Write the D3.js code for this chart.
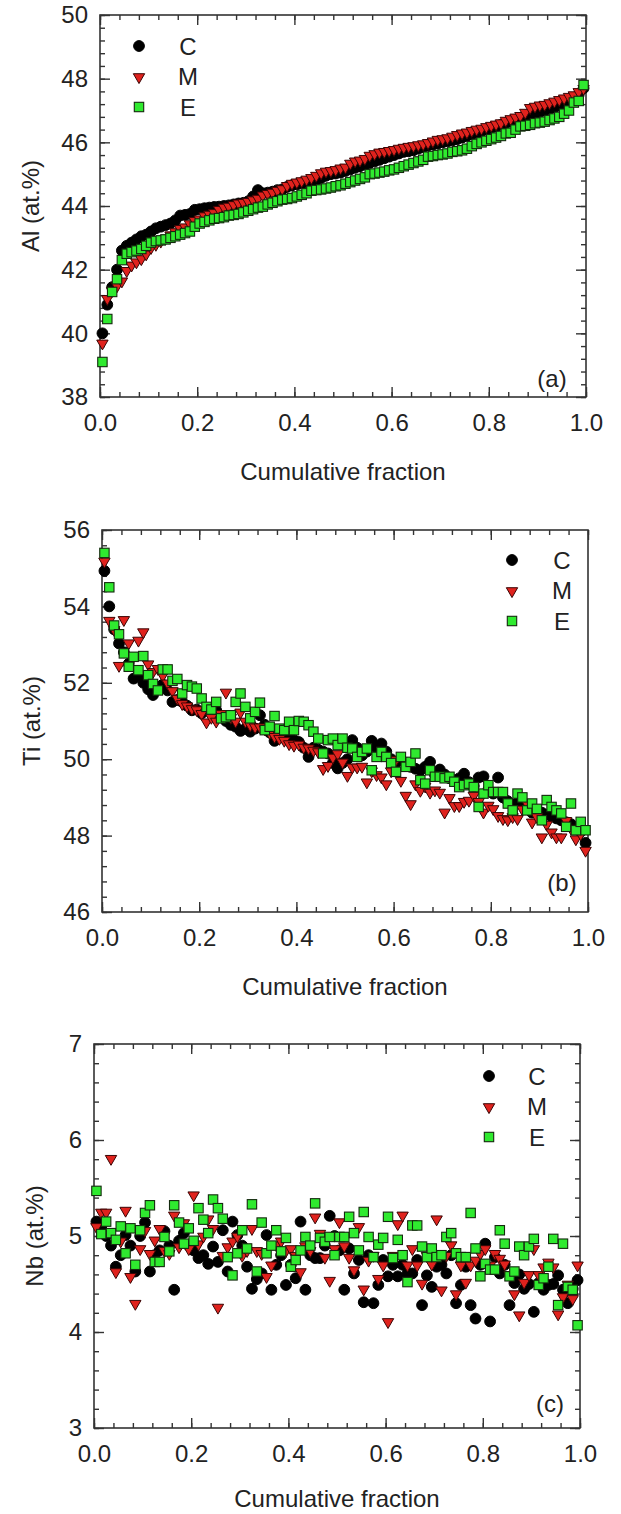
<!DOCTYPE html>
<html lang="en">
<head>
    <meta charset="UTF-8">
    <title>Cumulative fraction</title>
    <style>
        body { margin: 0; background: #fff; }
        text { font-family: "Liberation Sans", Arial, sans-serif; fill: #222; }
    </style>
</head>
<body>
<script src="https://d3js.org/d3.v7.min.js"></script>
<script>
    // series values, one point per analysed position, sorted by cumulative fraction
    const alC = [40.0, 40.9, 41.45, 42.0, 42.6, 42.75, 42.85, 42.95, 43.05, 43.1,
        43.2, 43.3, 43.35, 43.4, 43.45, 43.55, 43.7, 43.72, 43.75, 43.88,
        43.9, 43.93, 43.95, 43.97, 43.98, 44.0, 44.02, 44.05, 44.08, 44.1,
        44.15, 44.3, 44.5, 44.4, 44.42, 44.45, 44.5, 44.52, 44.6, 44.65,
        44.68, 44.72, 44.75, 44.78, 44.82, 44.88, 44.95, 45.0, 45.02, 45.05,
        45.1, 45.15, 45.2, 45.25, 45.3, 45.35, 45.4, 45.45, 45.5, 45.55,
        45.6, 45.65, 45.7, 45.72, 45.75, 45.8, 45.85, 45.9, 45.93, 45.96,
        46.0, 46.03, 46.06, 46.1, 46.15, 46.2, 46.25, 46.3, 46.35, 46.4,
        46.45, 46.5, 46.55, 46.6, 46.65, 46.7, 46.75, 46.8, 46.85, 46.9,
        46.95, 47.0, 47.05, 47.1, 47.15, 47.2, 47.3, 47.4, 47.5, 47.7];
    const alM = [39.7, 41.1, 41.35, 41.5, 41.65, 41.98, 42.15, 42.25, 42.35, 42.5,
        42.7, 42.8, 42.9, 43.0, 43.1, 43.2, 43.3, 43.35, 43.45, 43.55,
        43.6, 43.7, 43.75, 43.8, 43.9, 43.97, 44.0, 44.05, 44.1, 44.12,
        44.15, 44.2, 44.25, 44.35, 44.4, 44.44, 44.5, 44.55, 44.65, 44.72,
        44.76, 44.8, 44.85, 44.9, 44.97, 45.05, 45.1, 45.12, 45.15, 45.2,
        45.23, 45.35, 45.42, 45.45, 45.5, 45.6, 45.65, 45.7, 45.72, 45.75,
        45.78, 45.82, 45.85, 45.88, 45.9, 45.93, 45.96, 46.0, 46.05, 46.1,
        46.12, 46.15, 46.2, 46.25, 46.3, 46.33, 46.38, 46.42, 46.45, 46.5,
        46.54, 46.58, 46.62, 46.7, 46.75, 46.8, 46.85, 46.95, 47.1, 47.14,
        47.18, 47.2, 47.25, 47.3, 47.35, 47.4, 47.45, 47.5, 47.6, 47.7];
    const alE = [39.1, 40.45, 41.3, 41.7, 42.3, 42.5, 42.55, 42.6, 42.65, 42.75,
        42.85, 42.9, 42.92, 42.95, 43.0, 43.05, 43.1, 43.15, 43.2, 43.35,
        43.45, 43.5, 43.55, 43.6, 43.62, 43.65, 43.7, 43.72, 43.75, 43.8,
        43.85, 43.9, 43.95, 43.98, 44.05, 44.1, 44.15, 44.2, 44.22, 44.25,
        44.3, 44.35, 44.4, 44.48, 44.5, 44.52, 44.55, 44.58, 44.62, 44.65,
        44.7, 44.75, 44.8, 44.85, 44.9, 45.0, 45.02, 45.05, 45.08, 45.12,
        45.15, 45.2, 45.25, 45.3, 45.35, 45.4, 45.45, 45.55, 45.57, 45.6,
        45.62, 45.65, 45.7, 45.72, 45.75, 45.8, 45.88, 45.95, 46.0, 46.05,
        46.1, 46.15, 46.2, 46.28, 46.3, 46.4, 46.5, 46.52, 46.55, 46.6,
        46.62, 46.65, 46.7, 46.75, 46.8, 46.9, 47.0, 47.25, 47.3, 47.8];

    const tiC = [54.93, 54.0, 53.4, 53.03, 52.8, 52.5, 52.11, 52.2, 52.0, 51.83,
        51.68, 51.9, 51.95, 51.8, 51.5, 51.55, 51.5, 51.4, 51.28, 51.3,
        51.2, 51.3, 51.2, 51.28, 51.1, 51.0, 50.9, 50.85, 50.74, 50.8,
        50.72, 50.8, 51.15, 50.9, 50.7, 50.48, 50.6, 50.55, 50.59, 50.5,
        50.45, 50.3, 50.06, 50.3, 50.25, 50.2, 50.15, 49.9, 49.76, 49.9,
        50.0, 50.5, 50.3, 50.1, 50.2, 50.48, 50.3, 50.41, 50.2, 50.0,
        49.9, 50.0, 49.9, 49.8, 49.75, 49.71, 49.8, 49.93, 49.6, 49.73,
        49.6, 49.5, 49.45, 49.5, 49.62, 49.4, 49.3, 49.52, 49.55, 49.2,
        49.1, 49.52, 49.0, 48.9, 48.8, 48.85, 48.8, 48.7, 48.6, 48.65,
        48.6, 48.55, 48.5, 48.45, 48.4, 48.35, 48.3, 48.2, 48.1, 47.81];
    const tiM = [55.19, 53.64, 53.4, 52.46, 53.66, 53.05, 52.7, 53.12, 53.34, 52.5,
        52.3, 52.38, 52.2, 52.0, 51.8, 51.6, 51.46, 51.4, 51.33, 51.3,
        51.2, 50.98, 51.1, 51.0, 51.2, 51.76, 51.1, 51.0, 51.24, 51.0,
        50.9, 50.85, 50.85, 50.8, 50.7, 50.6, 50.55, 50.5, 50.41, 50.37,
        50.4, 50.32, 50.3, 50.24, 50.2, 49.76, 49.84, 50.06, 50.15, 49.93,
        49.58, 49.8, 49.8, 49.82, 49.41, 49.7, 49.6, 49.54, 49.36, 49.7,
        50.0, 49.45, 49.06, 48.84, 49.36, 49.19, 49.3, 49.14, 49.2, 49.14,
        48.62, 49.0, 48.79, 48.79, 48.9, 48.93, 49.06, 48.9, 48.62, 48.8,
        48.71, 48.53, 48.45, 48.42, 48.5, 48.45, 48.7, 48.84, 48.36, 48.5,
        47.97, 48.3, 48.1, 47.97, 47.97, 48.4, 48.2, 47.92, 48.05, 47.62];
    const tiE = [55.4, 54.5, 53.5, 53.27, 52.77, 52.42, 52.68, 52.33, 52.7, 52.2,
        51.97, 51.8, 52.35, 52.35, 52.05, 52.1, 51.72, 51.94, 51.9, 51.85,
        51.59, 51.37, 51.3, 51.5, 51.07, 51.1, 51.15, 51.5, 51.72, 51.37,
        51.07, 51.24, 51.48, 50.76, 50.85, 51.13, 50.8, 50.76, 50.98, 50.76,
        51.0, 50.98, 50.89, 50.72, 50.54, 50.15, 50.5, 50.54, 50.37, 50.54,
        50.3, 50.28, 50.06, 50.19, 50.28, 49.71, 50.06, 50.19, 50.06, 49.9,
        49.67, 50.06, 49.8, 49.93, 50.15, 49.45, 49.36, 49.71, 49.54, 49.54,
        49.5, 49.54, 49.41, 49.27, 49.32, 49.36, 49.27, 48.75, 49.1, 49.32,
        49.14, 49.14, 49.14, 48.84, 48.66, 49.1, 49.0, 48.66, 48.84, 48.7,
        48.4, 48.93, 48.75, 48.66, 48.58, 48.23, 48.84, 48.14, 48.36, 48.14];

    const nbC = [5.15, 5.1, 5.0, 4.9, 4.68, 4.8, 5.01, 4.9, 4.63, 5.0,
        5.14, 4.63, 4.8, 4.85, 5.05, 4.9, 4.44, 4.95, 5.03, 4.9,
        4.85, 4.77, 4.8, 4.71, 4.89, 4.73, 5.06, 4.63, 5.15, 5.01,
        4.9, 4.68, 4.45, 4.55, 4.61, 5.01, 4.44, 4.7, 4.8, 4.49,
        4.7, 4.56, 5.15, 4.44, 4.8, 4.77, 4.77, 4.9, 5.21, 5.0,
        4.85, 4.44, 4.87, 4.61, 4.75, 4.31, 4.8, 4.3, 4.49, 4.75,
        4.58, 4.7, 4.58, 4.7, 4.61, 4.61, 4.75, 4.28, 4.59, 4.47,
        4.68, 4.7, 4.61, 4.8, 4.3, 4.49, 4.68, 4.28, 4.14, 4.7,
        4.92, 4.11, 4.78, 4.61, 4.7, 4.28, 4.51, 4.6, 4.45, 4.5,
        4.21, 4.51, 4.44, 4.49, 4.5, 4.59, 4.44, 4.3, 4.45, 4.54];
    const nbM = [5.1, 5.25, 5.25, 5.81, 4.63, 4.95, 5.27, 4.58, 4.3, 4.87,
        5.06, 4.82, 4.96, 5.08, 4.85, 4.82, 5.22, 4.89, 5.14, 4.87,
        5.43, 4.92, 5.0, 5.18, 5.08, 4.26, 4.8, 4.89, 4.95, 5.0,
        4.8, 4.85, 5.08, 4.85, 4.82, 4.58, 4.7, 4.91, 4.95, 4.85,
        4.87, 4.8, 4.63, 4.9, 4.85, 5.2, 5.03, 4.78, 4.54, 4.87,
        5.15, 4.9, 4.78, 4.65, 5.1, 4.45, 4.75, 4.8, 4.56, 4.7,
        4.11, 4.8, 5.13, 5.22, 4.7, 4.87, 4.7, 4.51, 4.8, 4.71,
        5.18, 4.44, 4.8, 4.91, 4.4, 4.7, 4.52, 4.7, 4.75, 4.82,
        4.87, 4.7, 4.82, 4.77, 4.71, 4.6, 4.4, 4.18, 4.52, 4.6,
        4.87, 4.6, 4.68, 4.73, 4.68, 4.19, 4.37, 4.5, 4.35, 4.7];
    const nbE = [5.47, 5.02, 5.15, 5.03, 4.96, 5.1, 4.82, 5.08, 4.7, 5.06,
        5.24, 5.32, 4.73, 4.73, 4.99, 4.84, 5.32, 5.14, 4.92, 5.08,
        4.95, 5.29, 5.17, 5.03, 5.38, 5.29, 5.18, 4.78, 4.59, 4.82,
        5.06, 4.87, 5.33, 4.63, 5.14, 4.82, 4.9, 5.06, 4.84, 4.98,
        4.68, 4.75, 4.85, 4.99, 4.9, 5.34, 4.98, 4.94, 4.99, 4.8,
        4.99, 4.99, 5.2, 5.03, 4.85, 5.25, 4.99, 4.78, 4.91, 4.98,
        5.2, 4.77, 4.96, 4.8, 4.52, 5.11, 5.11, 4.89, 4.78, 4.87,
        4.78, 4.8, 4.99, 5.03, 4.82, 4.78, 4.78, 5.24, 4.87, 4.58,
        4.71, 4.65, 4.65, 5.06, 4.92, 4.58, 4.63, 4.89, 4.8, 4.89,
        4.97, 4.49, 4.56, 4.68, 4.97, 4.28, 4.92, 4.47, 4.44, 4.07];

    // tick labels
    const xTicks = [0, 0.2, 0.4, 0.6, 0.8, 1.0];
    const alTicks = [38, 40, 42, 44, 46, 48, 50];
    const tiTicks = [46, 48, 50, 52, 54, 56];
    const nbTicks = [3, 4, 5, 6, 7];
    const seriesNames = ['C', 'M', 'E'];

    // cumulative fraction of the i-th of n sorted points
    const fraction = (i, n) => (i + 0.5) / n;

    const panels = [
        {
            tag: '(a)', title: 'Al (at.%)', yTicks: alTicks, yMinor: 0.4, series: [alC, alM, alE],
            left: 100, right: 586, top: 15, bottom: 397, rightTicks: true,
            legendX: 139, legendTextX: 188, legendY: 46, tagX: 552, tagY: 378, titleX: 30, titleGap: 83
        },
        {
            tag: '(b)', title: 'Ti (at.%)', yTicks: tiTicks, yMinor: 0.4, series: [tiC, tiM, tiE],
            left: 102, right: 588, top: 530, bottom: 912, rightTicks: false,
            legendX: 512, legendTextX: 562, legendY: 560, tagX: 562, tagY: 882, titleX: 31, titleGap: 83
        },
        {
            tag: '(c)', title: 'Nb (at.%)', yTicks: nbTicks, yMinor: 0.2, series: [nbC, nbM, nbE],
            left: 94, right: 580, top: 1044, bottom: 1428, rightTicks: true,
            legendX: 489, legendTextX: 537, legendY: 1076, tagX: 550, tagY: 1403, titleX: 34, titleGap: 79
        }
    ];

    const svg = d3.select("body").append("svg")
        .attr("width", 621)
        .attr("height", 1514);

    const styles = [
        {fill: '#000', stroke: '#000'},
        {fill: '#e0221d', stroke: '#3a0505'},
        {fill: '#2fea2f', stroke: '#142a0e'}
    ];

    function drawMarker(g, k, cx, cy) {
        if (k === 0) {
            g.append("circle").attr("cx", cx).attr("cy", cy).attr("r", 5.4)
                .attr("fill", styles[0].fill).attr("stroke", styles[0].stroke).attr("stroke-width", 1);
        } else if (k === 1) {
            g.append("path")
                .attr("d", d3.symbol().type(d3.symbolTriangle).size(56)())
                .attr("transform", "translate(" + cx + "," + (cy + 0.5) + ") rotate(180)")
                .attr("fill", styles[1].fill).attr("stroke", styles[1].stroke).attr("stroke-width", 1);
        } else {
            g.append("rect").attr("x", cx - 4.7).attr("y", cy - 4.7).attr("width", 9.4).attr("height", 9.4)
                .attr("fill", styles[2].fill).attr("stroke", styles[2].stroke).attr("stroke-width", 1.1);
        }
    }

    function minorValues(lo, hi, step) {
        const out = [];
        for (let v = lo; v <= hi + 1e-9; v += step) out.push(+v.toFixed(4));
        return out;
    }

    panels.forEach(p => {
        const w = p.right - p.left;
        const h = p.bottom - p.top;
        const g = svg.append("g").attr("transform", "translate(" + p.left + "," + p.top + ")");

        const yDomain = d3.extent(p.yTicks);
        const xScale = d3.scaleLinear().domain([0, 1]).range([0, w]);
        const yScale = d3.scaleLinear().domain(yDomain).range([h, 0]);

        const xMinor = minorValues(0, 1, 0.04);
        const yMinor = minorValues(yDomain[0], yDomain[1], p.yMinor);

        // Bottom axis
        const bottom = g.append("g").attr("transform", "translate(0," + h + ")");
        bottom.append("g").call(d3.axisBottom(xScale).tickValues(xMinor).tickSize(-5).tickFormat(""));
        bottom.append("g").call(d3.axisBottom(xScale).tickValues(xTicks).tickSize(-10).tickPadding(17)
            .tickFormat(d3.format(".1f")));

        // Top axis
        g.append("g").call(d3.axisTop(xScale).tickValues(xMinor).tickSize(-5).tickFormat(""));
        g.append("g").call(d3.axisTop(xScale).tickValues(xTicks).tickSize(-10).tickFormat(""));

        // Left axis
        g.append("g").call(d3.axisLeft(yScale).tickValues(yMinor).tickSize(-5).tickFormat(""));
        g.append("g").call(d3.axisLeft(yScale).tickValues(p.yTicks).tickSize(-10).tickPadding(12)
            .tickFormat(d3.format("d")));

        // Right axis
        if (p.rightTicks) {
            const right = g.append("g").attr("transform", "translate(" + w + ",0)");
            right.append("g").call(d3.axisRight(yScale).tickValues(yMinor).tickSize(-5).tickFormat(""));
            right.append("g").call(d3.axisRight(yScale).tickValues(p.yTicks).tickSize(-10).tickFormat(""));
        }

        g.selectAll(".domain").remove();
        g.selectAll(".tick line").attr("stroke", "#333").attr("stroke-width", 1.4);
        g.selectAll(".tick text").style("font-size", "24px").attr("fill", "#222");

        // Frame
        g.append("rect").attr("width", w).attr("height", h)
            .attr("fill", "none").attr("stroke", "#333").attr("stroke-width", 1.6);

        // Points
        p.series.forEach((values, k) => {
            const layer = g.append("g");
            values.forEach((v, i) => drawMarker(layer, k, xScale(fraction(i, values.length)), yScale(v)));
        });

        // Legend
        seriesNames.forEach((name, k) => {
            const y = p.legendY + k * 30.5 - p.top;
            drawMarker(g, k, p.legendX - p.left, y);
            g.append("text").attr("x", p.legendTextX - p.left).attr("y", y + 8.5)
                .attr("text-anchor", "middle").style("font-size", "24px").text(name);
        });

        // Panel tag
        g.append("text").attr("x", p.tagX - p.left).attr("y", p.tagY - p.top + 8.5)
            .attr("text-anchor", "middle").style("font-size", "24px").text(p.tag);

        // Axis titles
        svg.append("text").attr("x", (p.left + p.right) / 2).attr("y", p.bottom + p.titleGap)
            .attr("text-anchor", "middle").style("font-size", "24px").text("Cumulative fraction");
        svg.append("text")
            .attr("transform", "translate(" + (p.titleX + 8.5) + "," + (p.top + p.bottom) / 2 + ") rotate(-90)")
            .attr("text-anchor", "middle").style("font-size", "24px").text(p.title);
    });
</script>
</body>
</html>
